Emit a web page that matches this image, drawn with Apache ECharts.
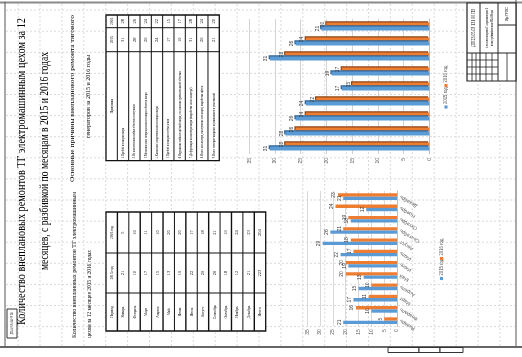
<!DOCTYPE html>
<html><head><meta charset="utf-8">
<script src="https://cdn.jsdelivr.net/npm/echarts@6/dist/echarts.min.js"></script>
<style>html,body{margin:0;padding:0;background:#fff}#c{width:522px;height:357px}</style>
</head><body><div id="c"></div>
<script>
// ---------- DATA ----------
const seriesNames = ['2015 год', '2016 год'];
const months = ['Январь','Февраль','Март','Апрель','Май','Июнь','Июль','Август','Сентябрь','Октябрь','Ноябрь','Декабрь'];
const months2015 = [21, 10, 17, 15, 13, 19, 22, 29, 26, 18, 12, 21];
const months2016 = [5, 16, 11, 10, 20, 20, 17, 18, 21, 19, 24, 23];
const reasons = [
  '1.Пробой изоляции якоря',
  '2.Не качественная пайка обмоток в петушках',
  '3.Механические повреждения изоляции обмоток якоря',
  '4.Снижение сопротивления изоляции якоря',
  '5.Пробой изоляции возбуждения',
  '6.Нарушение пайки в щёткой якоря, соединение уравнительной обмотки',
  '7.Деформация коллектора якоря (выработка на коллекторе)',
  '8.Износ коллектора, выступание изоляции, выработка щёток',
  '9.Износ моторно-якорных подшипников и уплотнений'
];
const reasons2015 = [31, 28, 26, 24, 17, 19, 31, 26, 21];
const reasons2016 = [28, 26, 24, 22, 15, 17, 28, 24, 20];
const titleLines = ['Количество внеплановых ремонтов ТГ электромашинным цехом за 12',
                    'месяцев, с разбивкой по месяцам в 2015 и 2016 годах'];
const leftSub = ['Количество внеплановых ремонтов ТГ электромашинным', 'цехом за 12 месяцев 2015 и 2016 годах'];
const rightSub = ['Основные причины внепланового ремонта тягового', 'генераторов за 2015 и 2016 годы'];
const reasonHeader = ['Причины', '2015', '2016'];
const monthHeader = ['Период', '2015 год', '2016 год'];
const totalLabel = 'Итого';
const docCode = 'ДП 23.05.03 131 00 ПЗ';

// ---------- STYLE ----------
const BLUE = '#5B9BD5', ORANGE = '#ED7D31';
const SERIF = 'Liberation Serif', SANS = 'Liberation Sans';
const mctx = document.createElement('canvas').getContext('2d');
function measure(t, size, fam){ mctx.font = size + 'px "' + fam + '"'; return mctx.measureText(t).width; }
function vt(text, x, y, size, o){
  o = o || {};
  const fam = o.family || SERIF;
  let sx = o.sx || 1;
  if (o.len) sx = o.len / measure(text, size, fam);
  const al = o.align || 'center';
  return {type:'text', x:x, y:y, rotation:Math.PI/2, scaleX:sx, scaleY:1, silent:true, z:o.z || 10,
    style:{text:text, fontSize:size, fontFamily:fam, fill:o.color || '#000',
      align:al, verticalAlign:'middle', textAlign:al, textVerticalAlign:'middle'}};
}
function ln(x1,y1,x2,y2,w,c,dash,z){
  return {type:'line', silent:true, z:z == null ? 5 : z, shape:{x1:x1,y1:y1,x2:x2,y2:y2},
    style:{stroke:c || '#111', lineWidth:w || 1, lineDash:dash || null}};
}
function rc(x,y,w,h,fill,stroke,lw,z){
  return {type:'rect', silent:true, z:z == null ? 4 : z, shape:{x:x,y:y,width:w,height:h},
    style:{fill:fill || 'none', stroke:stroke || '#111', lineWidth:lw || 1}};
}

const G = [];
// sheet gridlines
for (let x = 18.1; x < 516; x += 21.9) G.push(ln(x, 4, x, 346, 1, '#dadada', [2,2], -5));
for (let y = 10.1; y < 346; y += 21.1) G.push(ln(6, y, 515, y, 1, '#dadada', [2,2], -5));
// frame
G.push(ln(0, 2.5, 522, 2.5, 2, '#8a8a8a', null, 6));
G.push(ln(5, 2, 5, 347, 1, '#555', null, 6));
G.push(ln(516, 0, 516, 347, 1, '#555', null, 6));
G.push(ln(0, 347, 522, 347, 2, '#666', null, 6));
// little boxes under frame
[[388,31],[419,21],[440,23]].forEach(b => G.push(rc(b[0], 347.5, b[1], 5, '#fff', '#333', 1, 6)));
// small stamp box bottom-left
G.push(rc(7, 309, 10, 29, '#fff', '#333', 1, 6));
G.push(vt(docCode, 12, 323.5, 3, {len:22, z:11}));
// title block top-right
G.push(rc(467, 3, 49, 78, '#fff', '#222', 1.2, 6));
G.push(ln(480, 3, 480, 81, 1, '#222', null, 7));
G.push(ln(498, 3, 498, 81, 1, '#222', null, 7));
G.push(ln(467, 53, 516, 53, 1, '#222', null, 7));
G.push(ln(498, 25, 516, 25, 1, '#222', null, 7));
[60, 67, 74].forEach(y => G.push(ln(467, y, 498, y, 0.8, '#222', null, 7)));
[472, 476, 486, 492, 507].forEach(x => G.push(ln(x, 53, x, 81, 0.8, '#222', null, 7)));
G.push(vt(docCode, 473.5, 28, 6, {len:38, z:11}));
G.push(vt(titleLines[0], 487, 28, 3, {len:40, z:11}));
G.push(vt(titleLines[1], 492, 28, 3, {len:36, z:11}));
G.push(vt('ИрГУПС', 507, 14, 3, {len:14, z:11}));

// titles
G.push(vt(titleLines[0], 21.8, 171.5, 12, {len:307}));
G.push(vt(titleLines[1], 44.8, 161, 12, {len:218}));
G.push(vt(leftSub[0], 74.5, 338, 7, {len:146, align:'left'}));
G.push(vt(leftSub[1], 89.5, 338, 7, {len:88, align:'left'}));
G.push(vt(rightSub[0], 72.5, 98.5, 7, {len:167}));
G.push(vt(rightSub[1], 88.5, 96.5, 7, {len:83}));

// reasons table
(function(){
  const x0 = 106, n = reasons.length + 1, x1 = 219.3, w = (x1 - x0) / n;
  const top = 15, ya = 27.7, yb = 51.7, bot = 160.7;
  G.push(rc(x0, top, x1 - x0, bot - top, '#fff', '#111', 1.3, 4));
  for (let i = 1; i < n; i++) G.push(ln(x0 + w*i, top, x0 + w*i, bot, 1, '#111'));
  G.push(ln(x0, ya, x1, ya, 1, '#111')); G.push(ln(x0, yb, x1, yb, 1, '#111'));
  const cy = [(yb + bot)/2, (ya + yb)/2, (top + ya)/2];
  reasonHeader.forEach((h, k) => G.push(vt(h, x0 + w/2, cy[k], 4.5, {sx:0.8})));
  reasons.forEach((r, i) => {
    const cx = x0 + w*(i + 1) + w/2;
    G.push(vt(r, cx, bot - 2.5, 3.6, {align:'left', sx:0.78}));
    G.push(vt(String(reasons2015[i]), cx, cy[1], 4.5));
    G.push(vt(String(reasons2016[i]), cx, cy[2], 4.5));
  });
})();

// months table
(function(){
  const x0 = 106, n = months.length + 2, x1 = 265.7, w = (x1 - x0) / n;
  const top = 212, ya = 253, yb = 293, bot = 331;
  G.push(rc(x0, top, x1 - x0, bot - top, '#fff', '#111', 1.3, 4));
  for (let i = 1; i < n; i++) G.push(ln(x0 + w*i, top, x0 + w*i, bot, i % 2 ? 1.4 : 1, '#111'));
  G.push(ln(x0, ya, x1, ya, 1, '#111')); G.push(ln(x0, yb, x1, yb, 1, '#111'));
  const cy = [(yb + bot)/2, (ya + yb)/2, (top + ya)/2];
  monthHeader.forEach((h, k) => G.push(vt(h, x0 + w/2, cy[k], 4.5, {sx:0.8})));
  const rows = months.map((m, i) => [m, months2015[i], months2016[i]]);
  rows.push([totalLabel, months2015.reduce((a,b)=>a+b,0), months2016.reduce((a,b)=>a+b,0)]);
  rows.forEach((r, i) => {
    const cx = x0 + w*(i + 1) + w/2;
    G.push(vt(r[0], cx, cy[0], 4.5, {sx:0.8}));
    G.push(vt(String(r[1]), cx, cy[1], 4.5));
    G.push(vt(String(r[2]), cx, cy[2], 4.5));
  });
})();

// legends (rotated like the sheet)
function legend(x, yBlue, yOrange){
  G.push(rc(x - 1.5, yBlue - 1.5, 3, 3, BLUE, BLUE, 0.1, 12));
  G.push(vt(seriesNames[0], x, yBlue - 3, 5, {align:'left', family:SANS, color:'#595959', sx:0.85, z:12}));
  G.push(rc(x - 1.5, yOrange - 1.5, 3, 3, ORANGE, ORANGE, 0.1, 12));
  G.push(vt(seriesNames[1], x, yOrange - 3, 5, {align:'left', family:SANS, color:'#595959', sx:0.85, z:12}));
}
legend(446, 107, 85.5);
legend(441.5, 278.5, 258.5);

// ---------- CHART ----------
const axisLbl = {rotate:90, fontSize:5, color:'#595959', fontFamily:SANS, margin:3};
function barLabel(){ return {show:true, position:'left', distance:4, rotate:90, align:'center', verticalAlign:'middle',
  fontSize:5, color:'#404040', fontFamily:SANS}; }

const option = {
  animation:false,
  graphic:{elements:G},
  grid:[
    {left:249.3, right:92.7, top:19, bottom:203},
    {left:307.3, right:125, top:191, bottom:30.7}
  ],
  xAxis:[
    {gridIndex:0, type:'value', inverse:true, min:0, max:35, interval:5,
     axisLabel:Object.assign({}, axisLbl, {margin:4}), axisLine:{show:false}, axisTick:{show:false},
     splitLine:{lineStyle:{color:'#d4d4d4', width:1}}},
    {gridIndex:1, type:'value', inverse:true, min:0, max:35, interval:5,
     axisLabel:axisLbl, axisLine:{show:false}, axisTick:{show:false},
     splitLine:{lineStyle:{color:'#d9d9d9', width:1}}}
  ],
  yAxis:[
    {gridIndex:0, type:'category', data:reasons, position:'right', axisLine:{onZero:false, lineStyle:{color:'#bfbfbf'}},
     axisTick:{show:false}, axisLabel:{show:false}},
    {gridIndex:1, type:'category', data:months, position:'right', axisLine:{onZero:false, lineStyle:{color:'#bfbfbf'}},
     axisTick:{show:false}, axisLabel:{rotate:150, fontSize:5, color:'#595959', fontFamily:SANS, margin:3}}
  ],
  series:[
    {type:'bar', name:seriesNames[1], xAxisIndex:0, yAxisIndex:0, data:reasons2016, barWidth:4, barGap:'0%',
     itemStyle:{color:ORANGE, shadowColor:'#8f4514', shadowBlur:0, shadowOffsetX:-1.2, shadowOffsetY:-1.2}, label:barLabel()},
    {type:'bar', name:seriesNames[0], xAxisIndex:0, yAxisIndex:0, data:reasons2015, barWidth:4, barGap:'0%',
     itemStyle:{color:BLUE, shadowColor:'#2f6496', shadowBlur:0, shadowOffsetX:-1.2, shadowOffsetY:-1.2}, label:barLabel()},
    {type:'bar', name:seriesNames[1], xAxisIndex:1, yAxisIndex:1, data:months2016, barWidth:3.3, barGap:'0%',
     itemStyle:{color:ORANGE}, label:barLabel()},
    {type:'bar', name:seriesNames[0], xAxisIndex:1, yAxisIndex:1, data:months2015, barWidth:3.3, barGap:'0%',
     itemStyle:{color:BLUE}, label:barLabel()}
  ]
};
const chart = echarts.init(document.getElementById('c'), null, {renderer:'canvas'});
chart.setOption(option);
</script></body></html>
